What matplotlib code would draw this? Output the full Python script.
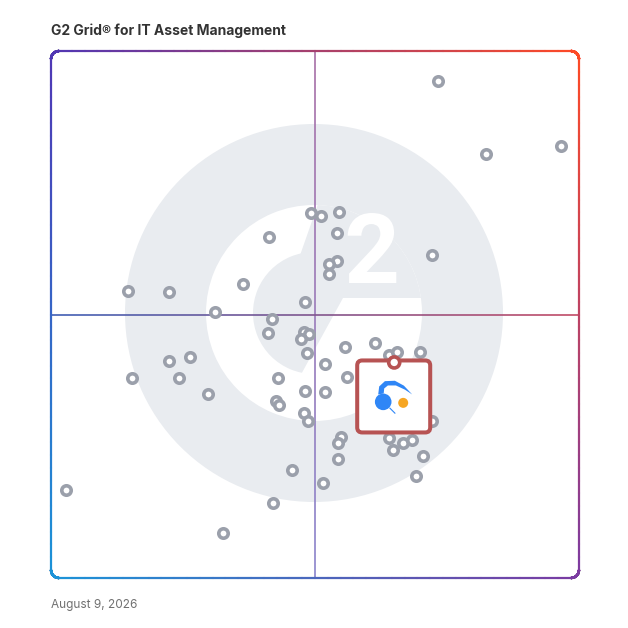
import matplotlib.pyplot as plt
import numpy as np
from matplotlib.patches import Circle, Wedge, Polygon, FancyBboxPatch, PathPatch
from matplotlib.collections import LineCollection
from matplotlib.colors import to_rgb
from matplotlib.textpath import TextPath
from matplotlib.font_manager import FontProperties
from matplotlib.transforms import Affine2D

# product positions (x: market presence, y: satisfaction), 0-100 scale
xs = [73.3, 82.4, 96.6, 49.2, 51.1, 54.5, 41.2, 54.1, 72.2, 54.1,
      52.7, 52.6, 14.5, 22.4, 36.3, 48.1, 31.1, 41.9, 41.1, 47.9,
      48.9, 47.4, 61.4, 55.6, 64.1, 65.5, 69.8, 48.4, 26.4, 22.3,
      51.8, 15.3, 24.2, 56.1, 42.9, 48.1, 51.9, 29.7, 42.7, 43.2,
      47.9, 48.7, 72.1, 54.9, 54.4, 64.1, 66.7, 68.3, 64.8, 70.5,
      54.3, 45.7, 69.1, 51.6, 2.8, 42.0, 32.6]
ys = [94.3, 80.5, 82.0, 69.2, 68.6, 69.4, 64.8, 65.5, 61.3, 60.2,
      59.5, 57.7, 54.5, 54.3, 55.8, 52.4, 50.5, 49.1, 46.5, 46.7,
      46.3, 45.3, 44.5, 43.8, 42.3, 42.9, 42.9, 42.6, 41.9, 41.1,
      40.7, 37.9, 37.9, 38.2, 37.9, 35.5, 35.2, 34.9, 33.6, 32.8,
      31.3, 29.8, 29.7, 26.8, 25.6, 26.6, 25.6, 26.2, 24.2, 23.1,
      22.6, 20.4, 19.4, 18.1, 16.7, 14.2, 8.5]
highlight = (65.0, 40.9)

title = "G2 Grid® for IT Asset Management"
date_label = "August 9, 2026"

W = 628
fig = plt.figure(figsize=(6.28, 6.28), dpi=100)

# background layer in pixel coords (y up)
bg = fig.add_axes([0, 0, 1, 1])
bg.set_xlim(0, W)
bg.set_ylim(0, W)
bg.axis('off')

# plot area
x0, x1, y0, y1 = 51, 579, 50, 577
ax = fig.add_axes([x0 / W, y0 / W, (x1 - x0) / W, (y1 - y0) / W])
ax.set_xlim(0, 100)
ax.set_ylim(0, 100)
ax.axis('off')
ax.patch.set_alpha(0)

# G2 watermark
wm = '#e9ecf0'
cx, cy = 314, 315
bg.add_patch(Circle((cx, cy), 189, color=wm, lw=0, zorder=1))
bg.add_patch(Wedge((cx, cy), 108, 0, 360, width=47, color='white', lw=0, zorder=2))
clip = Circle((cx, cy), 108, transform=bg.transData)
gap = Polygon([(337, 478), (285, 330), (445, 330), (445, 478)], closed=True,
              color=wm, lw=0, zorder=2.1)
bg.add_patch(gap)
gap.set_clip_path(clip)
chev = Polygon([(343, 330), (388, 330), (453, 228), (287, 228)], closed=True,
               color='white', lw=0, zorder=2.2)
bg.add_patch(chev)
chev.set_clip_path(clip)
two = TextPath((0, 0), '2', size=100, prop=FontProperties(family='Roboto', weight='bold'))
ext = two.get_extents()
k = 70 / ext.height
tf = Affine2D().translate(-ext.x0, -ext.y0).scale(k).translate(372 - ext.width * k / 2, 345)
bg.add_patch(PathPatch(tf.transform_path(two), color='white', lw=0, zorder=3))

# gradient frame
corners = {'tl': to_rgb('#5036b4'), 'tr': to_rgb('#ff4a25'),
           'bl': to_rgb('#1b94d8'), 'br': to_rgb('#7b3ba2')}


def frame_color(x, y):
    u = (x - x0) / (x1 - x0)
    v = (y - y0) / (y1 - y0)
    top = (1 - u) * np.array(corners['tl']) + u * np.array(corners['tr'])
    bot = (1 - u) * np.array(corners['bl']) + u * np.array(corners['br'])
    return np.clip(v * top + (1 - v) * bot, 0, 1)


r = 8
pts = []
for (ccx, ccy, a0) in [(x1 - r, y1 - r, 0), (x0 + r, y1 - r, 90),
                       (x0 + r, y0 + r, 180), (x1 - r, y0 + r, 270)]:
    for t in np.linspace(a0, a0 + 90, 20):
        pts.append((ccx + r * np.cos(np.radians(t)), ccy + r * np.sin(np.radians(t))))
pts.append(pts[0])
dense = []
for i in range(len(pts) - 1):
    for t in np.linspace(0, 1, 40, endpoint=False):
        dense.append((pts[i][0] + t * (pts[i + 1][0] - pts[i][0]),
                      pts[i][1] + t * (pts[i + 1][1] - pts[i][1])))
dense.append(dense[0])
dense = np.array(dense)
segs = np.stack([dense[:-1], dense[1:]], axis=1)
cols = [frame_color(*s.mean(axis=0)) for s in segs]
bg.add_collection(LineCollection(segs, colors=cols, linewidths=1.6, zorder=5,
                                 capstyle='round', joinstyle='round'))


def grad_line(p, q, c0, c1, n=200):
    xs_ = np.linspace(p[0], q[0], n)
    ys_ = np.linspace(p[1], q[1], n)
    seg = np.stack([np.column_stack([xs_[:-1], ys_[:-1]]),
                    np.column_stack([xs_[1:], ys_[1:]])], axis=1)
    a, b = np.array(to_rgb(c0)), np.array(to_rgb(c1))
    t = np.linspace(0, 1, n - 1)[:, None]
    bg.add_collection(LineCollection(seg, colors=(1 - t) * a + t * b,
                                     linewidths=1.2, zorder=4))


mx, my = (x0 + x1) / 2, (y0 + y1) / 2
grad_line((mx, y1), (mx, y0), '#a86fa6', '#8a84cc')
grad_line((x0, my), (x1, my), '#3f5fb5', '#c24b66')

# products
ax.scatter(xs, ys, s=46, facecolor='white', edgecolor='#9ba0ab',
           linewidths=2.6, zorder=3, clip_on=False)

# highlighted product box (overlay layer positioned from the data point)
top = fig.add_axes([0, 0, 1, 1])
top.set_xlim(0, W)
top.set_ylim(0, W)
top.axis('off')
top.patch.set_alpha(0)
hx, hy = ax.transData.transform(highlight)
red = '#b75353'
top.add_patch(FancyBboxPatch((hx - 37, hy - 70), 73, 72,
                             boxstyle='round,pad=0,rounding_size=5',
                             facecolor='white', edgecolor=red, lw=2.9, zorder=5))
top.add_patch(Circle((hx, hy), 5.5, facecolor='white', edgecolor=red, lw=2.6, zorder=6))
blue = '#2f86f6'
top.add_patch(Circle((hx - 11, hy - 39.4), 8.3, color=blue, lw=0, zorder=6))
top.add_patch(Circle((hx + 9, hy - 40.4), 5, color='#f6a623', lw=0, zorder=6))
sw = [(-16, -32), (-15, -24), (-9.3, -18.7), (0.7, -18.3), (9.7, -23.2),
      (18, -32), (10.7, -27.2), (1.7, -23.0), (-6.3, -23.0), (-10, -26.0),
      (-10.5, -31)]
top.add_patch(Polygon([(hx + a, hy + b) for a, b in sw], closed=True,
                      color=blue, lw=0, zorder=6))
top.plot([hx - 4.3, hx + 0.7], [hy - 45.7, hy - 50.7], color=blue, lw=0.8, zorder=6)

# texts
bg.text(x0, 593, title, fontsize=10, fontweight='bold', family='Inter',
        color='#333333', ha='left', va='baseline')
bg.text(x0, 20, date_label, fontsize=8.5, family='Inter',
        color='#707070', ha='left', va='baseline')

fig.savefig('out.png', dpi=100)
